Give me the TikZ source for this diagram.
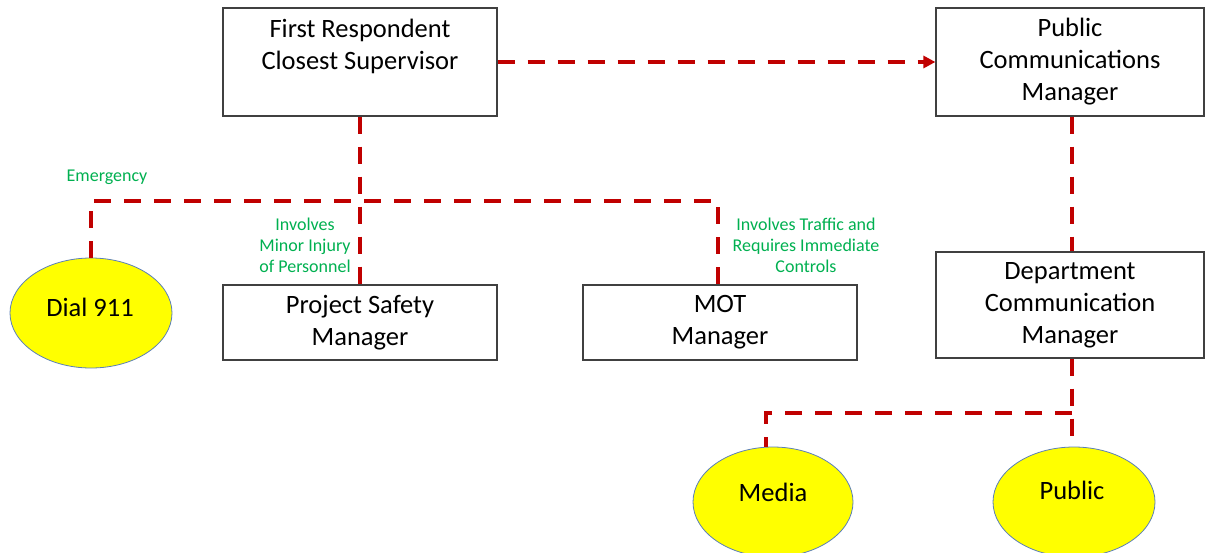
\documentclass[tikz,border=0pt]{standalone}
\usepackage{fontspec}
\setmainfont{Carlito}
\usetikzlibrary{shapes.geometric,arrows.meta}
\definecolor{lnred}{HTML}{C00000}
\definecolor{boxgray}{HTML}{404040}
\definecolor{ellblue}{HTML}{5B7FB8}
\definecolor{lblgreen}{HTML}{00B050}
\definecolor{ovalfill}{HTML}{FFFF00}
\begin{document}
\begin{tikzpicture}[x=1pt,y=-1pt,
  box/.style={draw=boxgray, line width=1.2pt, minimum width=274pt, inner sep=0pt, align=center, font=\fontsize{26.5}{32}\selectfont},
  txt/.style={align=center, inner sep=0pt, font=\fontsize{26.5}{32}\selectfont},
  oval/.style={ellipse, draw=ellblue, fill=ovalfill, line width=0.8pt, minimum width=162pt, minimum height=110pt, inner sep=0pt},
  conn/.style={draw=lnred, line width=4pt, dash pattern=on 17pt off 13pt},
  lbl/.style={text=lblgreen, align=center, inner sep=0pt, font=\fontsize{18}{21}\selectfont}]
\useasboundingbox (0,0) rectangle (1206,552);
% boxes
\node[box, minimum height=108pt] (first) at (360,62) {};
\node[txt] (firsttxt) at (360,46) {First Respondent\\Closest Supervisor};
\node[box, minimum width=268pt, minimum height=108pt] (pcm) at (1070,62) {Public\\Communications\\Manager};
\node[box, minimum height=75pt] (psm) at (360,322.5) {Project Safety\\Manager};
\node[box, minimum height=75pt] (mot) at (720,322.5) {MOT\\Manager};
\node[box, minimum width=268pt, minimum height=106pt] (dcm) at (1070,305) {Department\\Communication\\Manager};
% ovals
\node[oval] (dial) at (91,313) {};
\node[txt] (dialtxt) at (90,307) {Dial 911};
\node[oval, minimum width=160pt] (media) at (773,502) {};
\node[txt] (mediatxt) at (773,492) {Media};
\node[oval] (pub) at (1074,502) {};
\node[txt] (pubtxt) at (1072,490) {Public};
% connectors
\coordinate (hb) at (360,201);
\coordinate (hb2) at (1072,413);
\draw[conn, -{Triangle[length=12pt,width=12pt]}] (first.east) -- (pcm.west);
\draw[conn] (first.south) -- (psm.north);
\draw[conn] (dial.north) |- (hb) -| (mot.north -| 718,0);
\draw[conn] (pcm.south -| 1072,0) -- (dcm.north -| 1072,0);
\draw[conn] (dcm.south -| 1072,0) -- (pub.north -| 1072,0);
\draw[conn] (hb2) -| (media.north -| 766,0);
% labels
\node[lbl] (lemerg) at (107,177) {Emergency};
\node[lbl] (linjury) at (305,245) {Involves\\Minor Injury\\of Personnel};
\node[lbl] (ltraffic) at (806,245) {Involves Traffic and\\Requires Immediate\\Controls};
\end{tikzpicture}
\end{document}
